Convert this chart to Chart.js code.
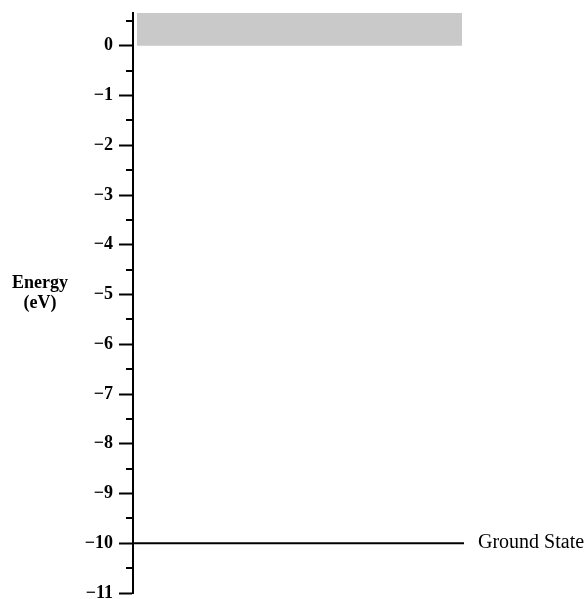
<!DOCTYPE html>
<html>
<head>
<meta charset="utf-8">
<script src="https://cdn.jsdelivr.net/npm/chart.js@4"></script>
<style>
  html, body { margin: 0; padding: 0; background: #ffffff; }
  #wrap { width: 587px; height: 599px; position: relative; }
</style>
</head>
<body>
<div id="wrap"><canvas id="c"></canvas></div>
<script>
// ---- data ----
const yMin = -11;
const yMax = 0.66;
const majorTicks = [-11, -10, -9, -8, -7, -6, -5, -4, -3, -2, -1, 0];
const minorTicks = [-10.5, -9.5, -8.5, -7.5, -6.5, -5.5, -4.5, -3.5, -2.5, -1.5, -0.5, 0.5];
const continuumTop = 0.66;     // shaded band (unbound states)
const continuumBottom = 0;
const continuumX = [0.012, 0.994];
const groundEnergy = -10;
const groundX = [0, 1];
const groundLabel = 'Ground State';
const axisLabel = ['Energy', '(eV)'];

const FONT = "'Liberation Serif', 'Times New Roman', serif";

const allTicks = majorTicks.concat(minorTicks).sort((a, b) => a - b);

const extras = {
  id: 'extras',
  afterDraw(chart) {
    const ctx = chart.ctx;
    const ys = chart.scales.y, xs = chart.scales.x;
    ctx.save();
    // minor ticks
    ctx.strokeStyle = '#000';
    ctx.lineWidth = 2;
    minorTicks.forEach(v => {
      const y = Math.round(ys.getPixelForValue(v));
      ctx.beginPath();
      ctx.moveTo(chart.chartArea.left - 7, y);
      ctx.lineTo(chart.chartArea.left, y);
      ctx.stroke();
    });
    // ground state label
    ctx.fillStyle = '#000';
    ctx.font = '20px ' + FONT;
    ctx.textAlign = 'left';
    ctx.textBaseline = 'middle';
    ctx.fillText(groundLabel, xs.getPixelForValue(groundX[1]) + 14, ys.getPixelForValue(groundEnergy) - 1);
    // axis label
    ctx.font = 'bold 18px ' + FONT;
    ctx.textAlign = 'center';
    const yc = ys.getPixelForValue(-5);
    ctx.fillText(axisLabel[0], 40, yc - 11);
    ctx.fillText(axisLabel[1], 40, yc + 9);
    ctx.restore();
  }
};

new Chart(document.getElementById('c'), {
  type: 'line',
  data: {
    datasets: [
      {
        label: 'continuum',
        data: continuumX.map(x => ({ x: x, y: continuumTop })),
        borderWidth: 0,
        borderColor: 'rgba(0,0,0,0)',
        backgroundColor: '#c9c9c9',
        pointRadius: 0,
        fill: { value: continuumBottom }
      },
      {
        label: 'ground',
        data: groundX.map(x => ({ x: x, y: groundEnergy })),
        borderColor: '#000',
        borderWidth: 2,
        pointRadius: 0,
        fill: false
      }
    ]
  },
  options: {
    responsive: true,
    maintainAspectRatio: false,
    animation: false,
    layout: { padding: { left: 0, right: 123, top: 13, bottom: 6 } },
    plugins: { legend: { display: false }, tooltip: { enabled: false } },
    scales: {
      x: { type: 'linear', min: 0, max: 1, display: false },
      y: {
        type: 'linear',
        min: yMin,
        max: yMax,
        afterBuildTicks(scale) { scale.ticks = allTicks.map(v => ({ value: v })); },
        afterFit(scale) { scale.width = 133; scale.paddingTop = 0; scale.paddingBottom = 0; },
        border: { display: true, color: '#000', width: 2 },
        grid: {
          drawOnChartArea: false,
          tickLength: 14,
          tickWidth: 2,
          tickColor: ctx => (Number.isInteger(ctx.tick.value) ? '#000' : 'rgba(0,0,0,0)')
        },
        ticks: {
          padding: 6,
          color: '#000',
          font: { family: FONT, size: 18, weight: 'bold' },
          callback: v => (Number.isInteger(v) ? (v < 0 ? '\u2212' + Math.abs(v) : String(v)) : '')
        }
      }
    }
  },
  plugins: [extras]
});
</script>
</body>
</html>
